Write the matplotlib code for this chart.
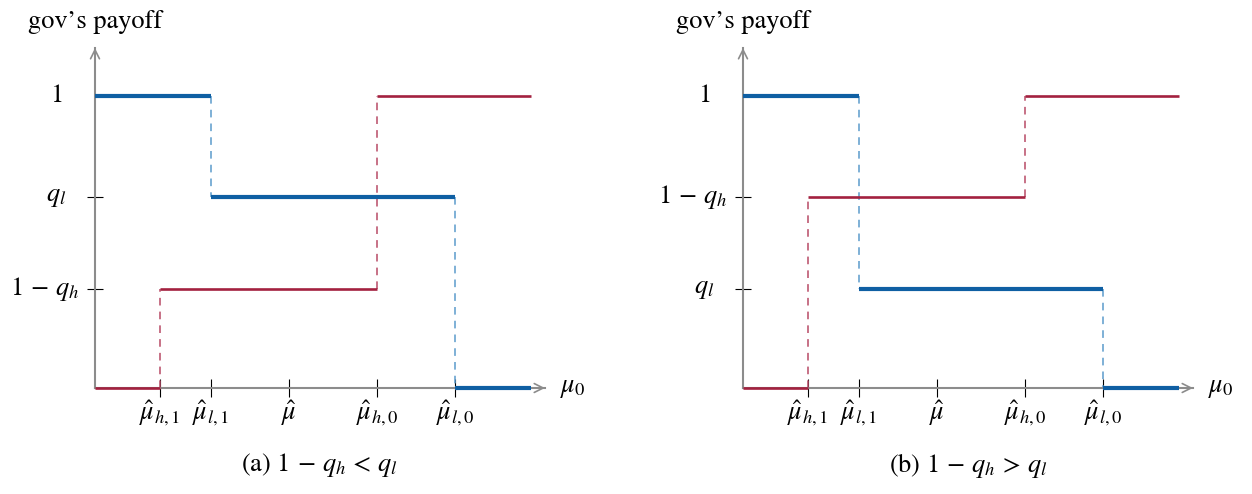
import numpy as np
import matplotlib.pyplot as plt

plt.rcParams['font.family'] = ['STIXGeneral', 'DejaVu Serif']
plt.rcParams['mathtext.fontset'] = 'stix'

# thresholds on the mu_0 axis (same for both panels)
x_ticks = [0.65, 1.16, 1.94, 2.82, 3.60]
x_labels = [r'$\hat{\mu}_{h,1}$', r'$\hat{\mu}_{l,1}$', r'$\hat{\mu}$',
            r'$\hat{\mu}_{h,0}$', r'$\hat{\mu}_{l,0}$']
x_end = 4.36
x_arrow = 4.50

# payoff levels
y_top = 1.0
y_hi = 0.654
y_lo = 0.339
y_arrow = 1.164

# panel (a): 1 - q_h < q_l
a_blue = [y_top, y_hi, 0.0]   # levels of the thick blue step
a_red = [0.0, y_lo, y_top]    # levels of the thin red step
a_ylabels = {y_top: '$1$', y_hi: '$q_l$', y_lo: r'$1\,-\,q_h$'}
a_caption = r'(a) $1\,-\,q_h\,<\,q_l$'

# panel (b): 1 - q_h > q_l
b_blue = [y_top, y_lo, 0.0]
b_red = [0.0, y_hi, y_top]
b_ylabels = {y_top: '$1$', y_hi: r'$1\,-\,q_h$', y_lo: '$q_l$'}
b_caption = r'(b) $1\,-\,q_h\,>\,q_l$'

blue = '#0f5fa3'
blue_d = '#5b9bcc'
red = '#a3213f'
red_d = '#b84a66'
grey = '#8c8c8c'
fs = 19

fig = plt.figure(figsize=(12.52, 4.94), dpi=100)


def panel(left, blue_lv, red_lv, ylabels, caption):
    ax = fig.add_axes([left / 1252, 106 / 494, 450 / 1252, 340 / 494])
    ax.set_xlim(0, x_arrow)
    ax.set_ylim(0, y_arrow)
    for s in ['top', 'right']:
        ax.spines[s].set_visible(False)
    for s in ['left', 'bottom']:
        ax.spines[s].set_color(grey)
        ax.spines[s].set_linewidth(1.5)
    ax.annotate('', xy=(1, 0), xytext=(0.97, 0), xycoords='axes fraction',
                arrowprops=dict(arrowstyle='->', color=grey, lw=1.2,
                                mutation_scale=16, shrinkA=0, shrinkB=0))
    ax.annotate('', xy=(0, 1), xytext=(0, 0.96), xycoords='axes fraction',
                arrowprops=dict(arrowstyle='->', color=grey, lw=1.2,
                                mutation_scale=16, shrinkA=0, shrinkB=0))

    # blue: steps down at mu_l1 and mu_l0
    bx = [0, x_ticks[1], x_ticks[4], x_end]
    for i in range(3):
        ax.plot([bx[i], bx[i + 1]], [blue_lv[i]] * 2, color=blue, lw=3.0,
                solid_capstyle='butt', clip_on=False, zorder=3)
    for i in range(2):
        ax.plot([bx[i + 1]] * 2, [blue_lv[i], blue_lv[i + 1]], color=blue_d,
                lw=1.1, ls=(0, (5, 4)), zorder=2)

    # red: steps up at mu_h1 and mu_h0
    rx = [0, x_ticks[0], x_ticks[3], x_end]
    for i in range(3):
        ax.plot([rx[i], rx[i + 1]], [red_lv[i]] * 2, color=red, lw=1.9,
                solid_capstyle='butt', clip_on=False, zorder=3)
    for i in range(2):
        ax.plot([rx[i + 1]] * 2, [red_lv[i], red_lv[i + 1]], color=red_d,
                lw=1.1, ls=(0, (5, 4)), zorder=2)

    ax.set_xticks(x_ticks)
    ax.set_xticklabels(x_labels, fontsize=fs)
    ax.set_yticks([y_hi, y_lo])
    ax.set_yticklabels([])
    ax.tick_params(direction='inout', length=13, width=0.8, color='black',
                   pad=1)
    ax.tick_params(axis='y', length=12)

    for yv, lab in ylabels.items():
        if '-' in lab:
            ax.text(-0.16, yv, lab, ha='right', va='center', fontsize=fs)
        else:
            ax.text(-0.39, yv, lab, ha='center', va='center', fontsize=fs)

    ax.text(0, 1.0 + 26 / 340, 'gov’s payoff', ha='center', va='center',
            fontsize=fs, transform=ax.transAxes)
    ax.text(x_arrow + 0.15, 0, r'$\mu_0$', ha='left', va='center',
            fontsize=fs)
    ax.text(0.5, -77 / 340, caption, ha='center', va='center', fontsize=fs,
            transform=ax.transAxes)


panel(95, a_blue, a_red, a_ylabels, a_caption)
panel(743, b_blue, b_red, b_ylabels, b_caption)

fig.savefig('out.png', dpi=100)
